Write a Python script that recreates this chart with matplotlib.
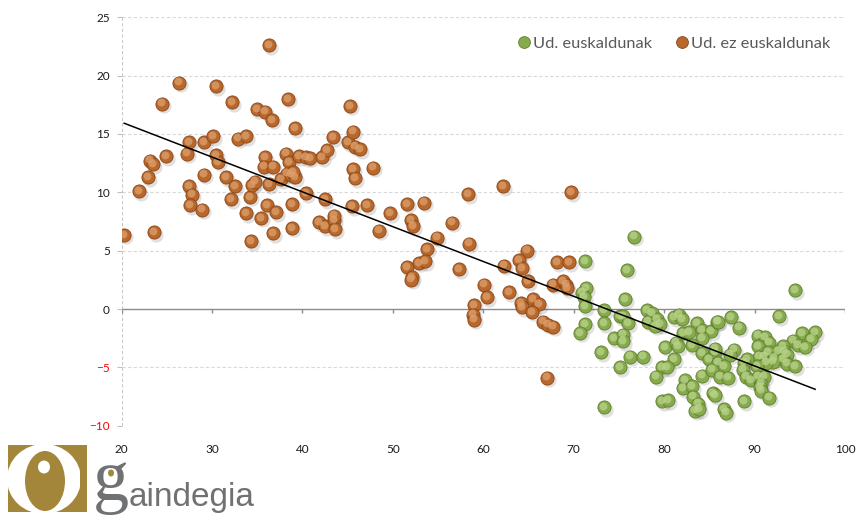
import numpy as np
import matplotlib
matplotlib.use("Agg")
import matplotlib.pyplot as plt
from matplotlib.transforms import offset_copy
from matplotlib.lines import Line2D
from matplotlib import patches

# ---------------- data ----------------
brown_x = [20.3, 21.9, 22.9, 23.1, 23.5, 23.6, 24.5, 24.9, 26.4, 27.2, 27.5, 27.5, 27.8, 27.6,
           28.9, 29.1, 29.1, 30.1, 30.5, 30.5, 30.7, 31.5, 32.2, 32.6, 32.1, 32.9, 33.8, 33.8,
           34.3, 34.2, 34.4, 34.8, 35.0, 35.4, 35.9, 35.9, 35.8, 36.3, 36.1, 36.3, 36.6, 36.7,
           36.7, 37.1, 38.4, 38.2, 38.5, 37.6, 38.3, 38.7, 39.2, 39.0, 38.9, 38.9, 39.2, 39.6,
           40.4, 40.8, 40.4, 41.8, 42.5, 42.2, 42.5, 42.7, 43.4, 43.5, 43.5, 43.6, 45.0, 45.3,
           45.6, 45.8, 46.4, 45.6, 45.8, 45.5, 47.8, 47.2, 48.5, 49.7, 51.6, 53.4, 58.3, 52.0,
           52.2, 56.5, 54.9, 53.8, 58.4, 51.6, 52.9, 53.6, 52.1, 52.0, 57.3, 60.1, 60.4, 59.0,
           58.9, 59.0, 62.2, 69.7, 64.8, 63.9, 64.3, 62.3, 68.2, 69.5, 62.9, 65.0, 67.7, 68.8,
           69.1, 69.3, 64.2, 64.3, 65.5, 66.2, 65.4, 66.6, 67.2, 67.7, 67.1]
brown_y = [6.35, 10.1, 11.3, 12.7, 12.4, 6.6, 17.6, 13.1, 19.4, 13.3, 14.3, 10.5, 9.8, 8.9,
           8.5, 11.5, 14.3, 14.8, 19.1, 13.2, 12.6, 11.3, 17.7, 10.5, 9.4, 14.6, 14.8, 8.2,
           5.8, 9.6, 10.6, 10.9, 17.1, 7.8, 16.9, 13.0, 12.2, 10.7, 8.9, 22.6, 16.2, 6.5,
           12.2, 8.3, 18.0, 13.3, 12.6, 11.1, 11.6, 11.5, 11.3, 11.7, 9.0, 6.95, 15.5, 13.1,
           13.0, 12.95, 9.9, 7.45, 7.1, 13.0, 9.4, 13.6, 14.7, 7.6, 8.0, 6.85, 14.3, 17.4,
           15.2, 13.9, 13.7, 12.0, 11.2, 8.8, 12.1, 8.9, 6.7, 8.2, 9.0, 9.1, 9.85, 7.6,
           7.1, 7.4, 6.1, 5.15, 5.6, 3.6, 3.95, 4.1, 2.75, 2.5, 3.4, 2.1, 1.0, 0.35,
           -0.5, -0.9, 10.5, 10.0, 5.0, 4.2, 3.5, 3.7, 4.0, 4.0, 1.45, 2.4, 2.1, 2.4,
           2.1, 1.8, 0.5, 0.15, 0.85, 0.4, -0.25, -1.1, -1.35, -1.5, -5.9]

green_x = [71.3, 71.4, 70.9, 71.1, 71.3, 73.3, 75.1, 71.2, 70.7, 73.4, 74.5, 73.0, 75.1, 76.7,
           75.9, 75.7, 75.5, 76.0, 78.1, 78.7, 78.2, 79.2, 79.5, 79.0, 81.1, 81.7, 82.0, 83.6,
           82.1, 82.8, 84.2, 85.2, 85.9, 84.2, 75.5, 75.5, 80.1, 81.3, 81.5, 83.1, 84.2, 85.0,
           85.6, 76.2, 77.7, 81.1, 79.8, 80.3, 79.1, 82.3, 82.1, 83.1, 84.2, 83.2, 83.7, 83.4,
           83.9, 79.8, 80.4, 73.3, 85.4, 94.5, 92.7, 87.4, 86.0, 88.3, 90.4, 91.2, 91.6, 90.4,
           95.3, 96.7, 96.2, 94.2, 94.8, 95.6, 93.1, 93.3, 93.6, 92.6, 91.5, 90.5, 91.0, 92.2,
           93.1, 93.6, 94.5, 92.0, 91.3, 90.3, 89.2, 88.8, 87.7, 87.3, 85.6, 86.0, 86.6, 85.3,
           86.2, 87.1, 88.7, 89.1, 89.6, 90.4, 91.0, 90.7, 90.6, 90.7, 91.6, 88.8, 85.6, 86.6,
           86.8]
green_y = [4.1, 1.8, 1.4, 1.0, 0.25, -0.1, -0.6, -1.3, -2.05, -1.2, -2.5, -3.7, -5.0, 6.2,
           3.35, 0.85, -0.6, -1.2, -0.1, -0.35, -1.1, -0.85, -1.3, -1.45, -0.7, -0.5, -0.85, -1.2,
           -2.05, -2.0, -1.8, -1.9, -1.1, -2.5, -2.2, -2.75, -3.25, -2.9, -3.2, -3.1, -3.8, -4.3,
           -3.7, -4.1, -4.1, -4.3, -5.0, -5.0, -5.8, -6.1, -6.8, -6.6, -5.7, -7.5, -8.1, -8.7,
           -8.6, -7.9, -7.8, -8.4, -7.2, 1.6, -0.6, -0.7, -1.1, -1.6, -2.3, -2.4, -2.9, -3.2,
           -2.05, -2.0, -2.6, -2.7, -3.1, -3.25, -3.2, -3.6, -3.9, -3.6, -3.7, -4.1, -4.1, -4.2,
           -4.3, -4.7, -4.9, -4.5, -4.6, -4.9, -4.3, -4.6, -3.5, -3.9, -3.4, -4.6, -4.9, -5.2,
           -5.8, -5.9, -5.2, -5.8, -6.1, -5.8, -5.8, -6.4, -6.7, -7.0, -7.6, -7.9, -7.4, -8.6,
           -8.9]

series_labels = ["Ud. euskaldunak", "Ud. ez euskaldunak"]
xticks = [20, 30, 40, 50, 60, 70, 80, 90, 100]
yticks = [-10, -5, 0, 5, 10, 15, 20, 25]

# ---------------- figure ----------------
W, H = 857, 518
fig = plt.figure(figsize=(W / 100, H / 100), dpi=100)
fig.patch.set_facecolor("white")
ax = fig.add_axes([121.5 / W, 1 - 425.7 / H, (845 - 121.5) / W, (425.7 - 17.3) / H])
ax.set_xlim(20, 100)
ax.set_ylim(-10, 25)
for s in ax.spines.values():
    s.set_visible(False)

grid_c = "#D9D9D9"
for yv in yticks:
    if yv != 0:
        ax.axhline(yv, color=grid_c, lw=0.8, ls=(0, (3, 2)), zorder=0)
ax.axvline(20, color="#C8C8C8", lw=0.8, ls=(0, (3, 2)), zorder=0)
ax.axhline(0, color="#8C8C8C", lw=1.0, zorder=1)
ax.vlines(xticks, -0.3, 0, color="#8C8C8C", lw=1.0, zorder=1)

ax.set_xticks(xticks)
ax.set_yticks(yticks)
ax.tick_params(axis="x", length=0, pad=13, labelsize=8.5, labelcolor="#1a1a1a")
ax.tick_params(axis="y", length=3.5, width=0.8, color="#BFBFBF", pad=5, labelsize=8.5)
for lab, v in zip(ax.get_yticklabels(), yticks):
    lab.set_color("#FF0000" if v < 0 else "#1a1a1a")
for lab in ax.get_xticklabels() + ax.get_yticklabels():
    lab.set_fontfamily("Lato")


def spheres(xs, ys, base, edge, hi):
    shadow_t = offset_copy(ax.transData, fig=fig, x=2.0, y=-2.5, units="dots")
    ax.scatter(xs, ys, s=105, color="#000000", alpha=0.12, lw=0, transform=shadow_t, zorder=2)
    ax.scatter(xs, ys, s=90, color=base, edgecolors=edge, linewidths=0.6, zorder=3)
    hi_t = offset_copy(ax.transData, fig=fig, x=-1.0, y=1.4, units="dots")
    ax.scatter(xs, ys, s=32, color=hi, alpha=0.75, lw=0, transform=hi_t, zorder=4)


green_base, green_edge, green_hi = "#86AA4C", "#5E7F2E", "#B9D38A"
brown_base, brown_edge, brown_hi = "#B8682C", "#8A4516", "#DDA06C"
spheres(brown_x, brown_y, brown_base, brown_edge, brown_hi)
spheres(green_x, green_y, green_base, green_edge, green_hi)

# trend line over all points
allx = np.array(brown_x + green_x)
ally = np.array(brown_y + green_y)
m, b = np.polyfit(allx, ally, 1)
xl = np.array([allx.min(), allx.max()])
ax.plot(xl, m * xl + b, color="black", lw=1.1, zorder=5)

handles = [Line2D([], [], ls="", marker="o", ms=8.5, mfc=green_base, mec=green_edge, mew=0.6),
           Line2D([], [], ls="", marker="o", ms=8.5, mfc=brown_base, mec=brown_edge, mew=0.6)]
leg = ax.legend(handles, series_labels, loc="upper right", ncol=2, frameon=False,
                bbox_to_anchor=(1.0, 0.99), handletextpad=0.05, columnspacing=1.3,
                handlelength=1.0, prop={"family": "Lato", "size": 11.8})
for t in leg.get_texts():
    t.set_color("#595959")

# ---------------- logo ----------------
def fx(px):
    return px / W


def fy(py):
    return 1 - py / H


gold = "#A4863A"
rect = patches.Rectangle((fx(8), fy(512)), fx(79), 67 / H, transform=fig.transFigure,
                         facecolor=gold, edgecolor="none")
fig.patches.append(rect)
outer = patches.Ellipse((fx(44), fy(479)), 74 / W, 70 / H, transform=fig.transFigure,
                        facecolor="white", edgecolor="none")
outer.set_clip_path(rect)
fig.patches.append(outer)
inner = patches.Ellipse((fx(45), fy(481)), 40 / W, 60 / H, transform=fig.transFigure,
                        facecolor=gold, edgecolor="none")
fig.patches.append(inner)
dot = patches.Ellipse((fx(44), fy(467)), 12 / W, 13 / H, transform=fig.transFigure,
                      facecolor="white", edgecolor="none")
fig.patches.append(dot)
bar = patches.Rectangle((fx(80), fy(512)), fx(7), 67 / H, transform=fig.transFigure,
                        facecolor=gold, edgecolor="none")
fig.patches.append(bar)

fig.text(fx(93), fy(500), "g", fontsize=52, family="Liberation Serif", color="#707173",
         ha="left", va="baseline")
gdot = patches.Ellipse((fx(111), fy(473)), 6 / W, 7 / H, transform=fig.transFigure,
                       facecolor=gold, edgecolor="none")
fig.patches.append(gdot)
fig.text(fx(129), fy(506), "aindegia", fontsize=24, family="Liberation Sans", color="#707173",
         ha="left", va="baseline")

fig.savefig("out.png", dpi=100, facecolor="white")
